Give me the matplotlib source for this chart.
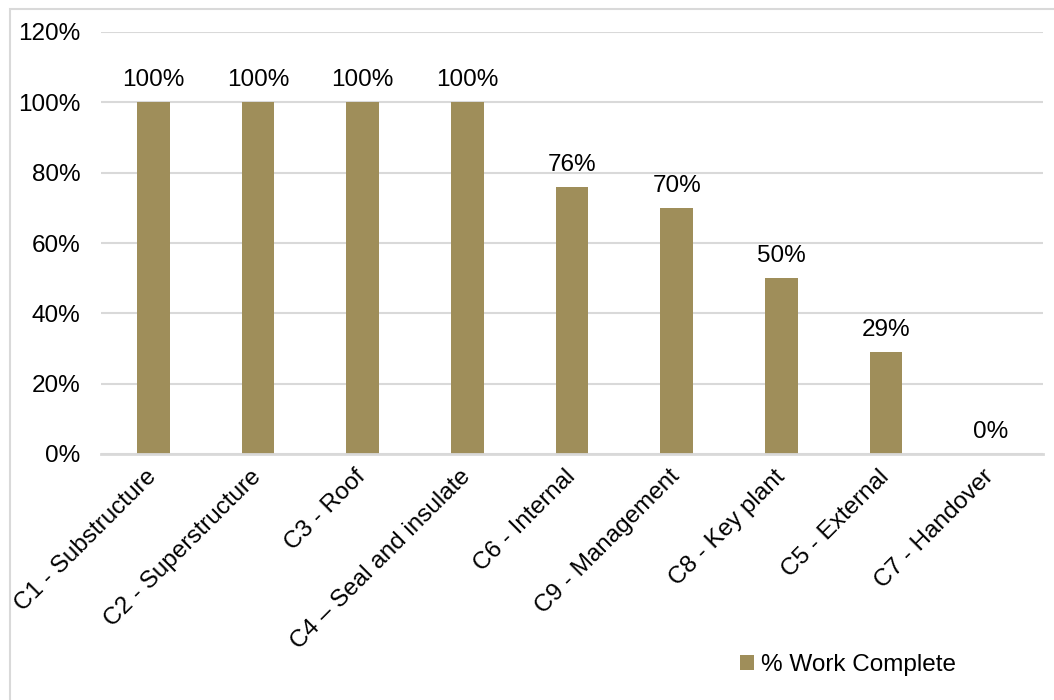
import matplotlib
matplotlib.use("Agg")
import matplotlib.pyplot as plt
from matplotlib.patches import Rectangle
from matplotlib.ticker import FuncFormatter, MultipleLocator

plt.rcParams['font.family'] = ['Liberation Sans', 'DejaVu Sans']

categories = ["C1 - Substructure", "C2 - Superstructure", "C3 - Roof",
              "C4 \u2013 Seal and insulate", "C6 - Internal", "C9 - Management",
              "C8 - Key plant", "C5 - External", "C7 - Handover"]
work_complete = [100, 100, 100, 100, 76, 70, 50, 29, 0]
series_name = "% Work Complete"

bar_color = "#9F8E5A"
grid_color = "#D9D9D9"
fs = 17.5

fig = plt.figure(figsize=(10.54, 7.0), dpi=100)
ax = fig.add_axes([101 / 1054, 1 - 454 / 700, 942 / 1054, 422 / 700])

x = range(len(categories))
bars = ax.bar(x, work_complete, width=0.31, color=bar_color, label=series_name, zorder=3)

for xi, v in zip(x, work_complete):
    ax.annotate(f"{v}%", (xi, v), xytext=(0, 8), textcoords="offset points",
                ha="center", va="bottom", fontsize=fs, color="#000000")

ax.set_xlim(-0.5, len(categories) - 0.5)
ax.set_ylim(0, 120)
ax.yaxis.set_major_locator(MultipleLocator(20))
ax.yaxis.set_major_formatter(FuncFormatter(lambda v, _: f"{v:.0f}%"))
ax.grid(axis="y", color=grid_color, linewidth=1.5, zorder=0)
ax.set_axisbelow(True)
for s in ["top", "right", "left"]:
    ax.spines[s].set_visible(False)
ax.spines["bottom"].set_color(grid_color)
ax.spines["bottom"].set_linewidth(2)
ax.spines["bottom"].set_zorder(4)

ax.tick_params(axis="y", length=0, pad=15, labelsize=fs)
ax.tick_params(axis="x", length=0, pad=14, labelsize=fs)
ax.set_xticks(list(x))
ax.set_xticklabels(categories, rotation=45, ha="right", va="center",
                   rotation_mode="anchor")

leg = fig.legend(handles=[bars], labels=[series_name], loc="center",
                 bbox_to_anchor=(848 / 1054, 1 - 665 / 700), frameon=False,
                 fontsize=fs, handlelength=0.6, handleheight=0.6, handletextpad=0.3)

# light frame around the chart area
fig.patches.append(Rectangle((9.5 / 1054, -0.05), 1.1, 1 - 8.5 / 700 + 0.05,
                             transform=fig.transFigure, fill=False,
                             edgecolor=grid_color, linewidth=1.5))

fig.savefig("out.png", dpi=100)
